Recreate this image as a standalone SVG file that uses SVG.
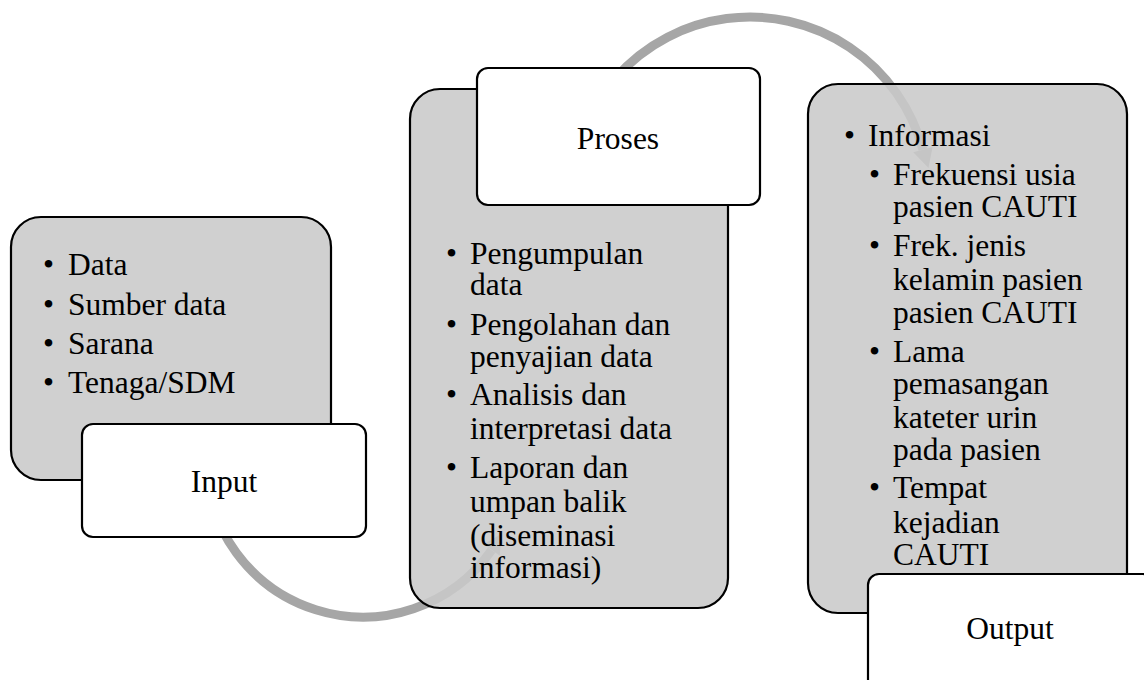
<svg xmlns="http://www.w3.org/2000/svg" width="1144" height="680" viewBox="0 0 1144 680">
  <style>
    .panel { fill: #c9c9c9; fill-opacity: 0.88; stroke: #000; stroke-width: 2.2; }
    .label { fill: #fff; stroke: #000; stroke-width: 2.2; }
    .flow { fill: none; stroke: #a6a6a6; stroke-width: 9; }
    .tip { fill: #a6a6a6; }
    text { font-family: "Liberation Serif", "Times New Roman", serif; font-size: 31.5px; fill: #000; }
    .c { text-anchor: middle; }
  </style>

  <!-- curved flow connectors (drawn beneath the panels) -->
  <g id="connectors">
    <path class="flow" d="M 206,460 A 157 157 0 0 0 491.6,550.1"/>
    <polygon class="tip" points="483.4,544.3 499.8,555.8 501.6,533.7"/>
    <path class="flow" d="M 571,196 A 179 179 0 0 1 922.9,149.7"/>
    <polygon class="tip" points="913.2,152.3 932.6,147.1 928.5,168"/>
  </g>

  <!-- Input -->
  <g id="input">
    <rect class="panel" x="11" y="217" width="320" height="263" rx="30"/>
    <text x="43" y="275">•</text><text x="68" y="275">Data</text>
    <text x="43" y="315">•</text><text x="68" y="315">Sumber data</text>
    <text x="43" y="354">•</text><text x="68" y="354">Sarana</text>
    <text x="43" y="393">•</text><text x="68" y="393">Tenaga/SDM</text>
    <rect class="label" x="82" y="424" width="284" height="113" rx="11"/>
    <text class="c" x="224" y="492">Input</text>
  </g>

  <!-- Proses -->
  <g id="proses">
    <rect class="panel" x="410" y="89" width="318" height="519" rx="30"/>
    <text x="446" y="264">•</text><text x="470" y="264">Pengumpulan</text>
    <text x="470" y="295">data</text>
    <text x="446" y="335">•</text><text x="470" y="335">Pengolahan dan</text>
    <text x="470" y="367">penyajian data</text>
    <text x="446" y="405">•</text><text x="470" y="405">Analisis dan</text>
    <text x="470" y="439">interpretasi data</text>
    <text x="446" y="478">•</text><text x="470" y="478">Laporan dan</text>
    <text x="470" y="512">umpan balik</text>
    <text x="470" y="546">(diseminasi</text>
    <text x="470" y="578">informasi)</text>
    <rect class="label" x="477" y="68" width="283" height="137" rx="11"/>
    <text class="c" x="618" y="149">Proses</text>
  </g>

  <!-- Output -->
  <g id="output">
    <rect class="panel" x="808" y="84" width="319" height="529" rx="30"/>
    <text x="844" y="146">•</text><text x="868" y="146">Informasi</text>
    <text x="869" y="185">•</text><text x="893" y="185">Frekuensi usia</text>
    <text x="893" y="217">pasien CAUTI</text>
    <text x="869" y="256">•</text><text x="893" y="256">Frek. jenis</text>
    <text x="893" y="290">kelamin pasien</text>
    <text x="893" y="323">pasien CAUTI</text>
    <text x="869" y="362">•</text><text x="893" y="362">Lama</text>
    <text x="893" y="394">pemasangan</text>
    <text x="893" y="428">kateter urin</text>
    <text x="893" y="460">pada pasien</text>
    <text x="869" y="498">•</text><text x="893" y="498">Tempat</text>
    <text x="893" y="533">kejadian</text>
    <text x="893" y="565">CAUTI</text>
    <rect class="label" x="868" y="574" width="286" height="116" rx="11"/>
    <text class="c" x="1010" y="639">Output</text>
  </g>
</svg>
